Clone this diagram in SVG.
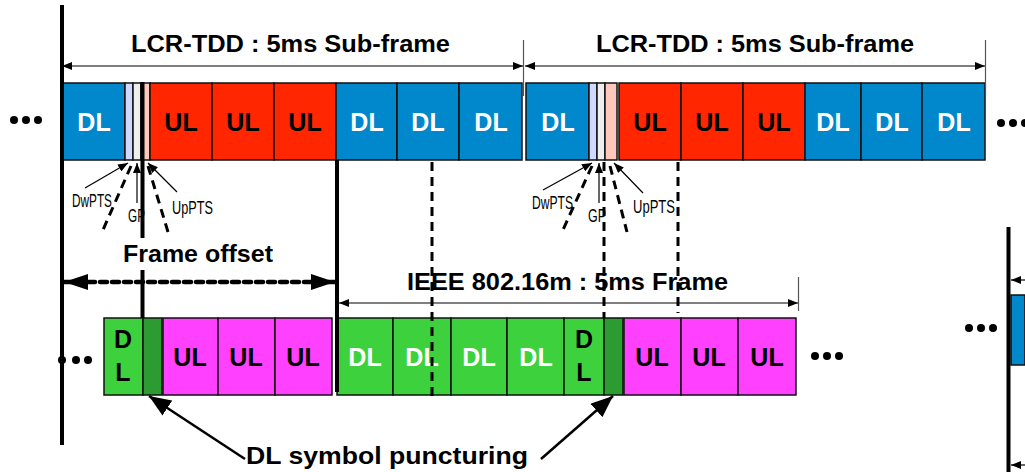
<svg xmlns="http://www.w3.org/2000/svg" width="1025" height="472" viewBox="0 0 1025 472">
<style>
  text { font-family: "Liberation Sans", Arial, sans-serif; font-weight: bold; }
  .cell { stroke: #111; stroke-width: 1.5; }
  .blue { fill: #0087cc; }
  .red { fill: #ff2600; }
  .mag { fill: #ff40ff; }
  .grn { fill: #3dd23d; }
  .dgrn { fill: #2b9b32; }
  .dw { fill: #cfd9ff; }
  .gp { fill: #eeeeee; }
  .up { fill: #ffc8bd; }
  .lw { font-size: 25px; fill: #ffffff; text-anchor: middle; }
  .lb { font-size: 25px; fill: #000000; text-anchor: middle; }
  .title { font-size: 24px; fill: #000; }
  .small { font-size: 18px; font-weight: normal; fill: #000; }
  .thin { stroke: #000; stroke-width: 1.2; fill: none; }
  .tick { stroke: #555; stroke-width: 1.2; fill: none; }
  .thick { stroke: #000; stroke-width: 4; fill: none; }
  .dash { stroke: #000; stroke-width: 3; stroke-dasharray: 9 6; fill: none; }
  .dot { fill: #000; }
</style>
<defs>
  <marker id="sa" viewBox="0 0 10 8" refX="10" refY="4" markerWidth="10" markerHeight="8" markerUnits="userSpaceOnUse" orient="auto-start-reverse">
    <path d="M0,0 L10,4 L0,8 Z" fill="#000"/>
  </marker>
  <marker id="ba" viewBox="0 0 24 16" refX="24" refY="8" markerWidth="24" markerHeight="16" markerUnits="userSpaceOnUse" orient="auto-start-reverse">
    <path d="M0,0 L24,8 L0,16 Z" fill="#000"/>
  </marker>
  <marker id="pa" viewBox="0 0 22 18" refX="22" refY="9" markerWidth="22" markerHeight="18" markerUnits="userSpaceOnUse" orient="auto">
    <path d="M0,0 L22,9 L0,18 Z" fill="#000"/>
  </marker>
</defs>

<!-- Titles -->
<g id="titles">
  <text class="title" x="131" y="52" textLength="319" lengthAdjust="spacingAndGlyphs">LCR-TDD : 5ms Sub-frame</text>
  <text class="title" x="596" y="52" textLength="318" lengthAdjust="spacingAndGlyphs">LCR-TDD : 5ms Sub-frame</text>
  <text class="title" x="123" y="262" textLength="150" lengthAdjust="spacingAndGlyphs">Frame offset</text>
  <text class="title" x="407" y="290" textLength="321" lengthAdjust="spacingAndGlyphs">IEEE 802.16m : 5ms Frame</text>
  <text class="title" x="246" y="464" textLength="282" lengthAdjust="spacingAndGlyphs">DL symbol puncturing</text>
</g>

<!-- Top row, frame 1 -->
<g id="lcr1">
  <rect class="cell blue" x="62" y="83" width="63" height="77"/><text class="lw" x="94" y="131">DL</text>
  <rect class="cell dw" x="125" y="83" width="8" height="77"/>
  <rect class="cell gp" x="133" y="83" width="8" height="77"/>
  <rect class="cell up" x="141" y="83" width="9" height="77"/>
  <rect class="cell red" x="150" y="83" width="62" height="77"/><text class="lb" x="181" y="131">UL</text>
  <rect class="cell red" x="212" y="83" width="62" height="77"/><text class="lb" x="243" y="131">UL</text>
  <rect class="cell red" x="274" y="83" width="62" height="77"/><text class="lb" x="305" y="131">UL</text>
  <rect class="cell blue" x="336" y="83" width="61" height="77"/><text class="lw" x="367" y="131">DL</text>
  <rect class="cell blue" x="397" y="83" width="62" height="77"/><text class="lw" x="428" y="131">DL</text>
  <rect class="cell blue" x="459" y="83" width="63" height="77"/><text class="lw" x="491" y="131">DL</text>
</g>

<!-- Top row, frame 2 -->
<g id="lcr2">
  <rect class="cell blue" x="526" y="83" width="63" height="77"/><text class="lw" x="558" y="131">DL</text>
  <rect class="cell dw" x="589" y="83" width="8" height="77"/>
  <rect class="cell gp" x="597" y="83" width="8" height="77"/>
  <rect class="cell up" x="605" y="83" width="12" height="77"/>
  <rect class="cell red" x="619" y="83" width="62" height="77"/><text class="lb" x="650" y="131">UL</text>
  <rect class="cell red" x="681" y="83" width="62" height="77"/><text class="lb" x="712" y="131">UL</text>
  <rect class="cell red" x="743" y="83" width="62" height="77"/><text class="lb" x="774" y="131">UL</text>
  <rect class="cell blue" x="805" y="83" width="56" height="77"/><text class="lw" x="833" y="131">DL</text>
  <rect class="cell blue" x="861" y="83" width="61" height="77"/><text class="lw" x="892" y="131">DL</text>
  <rect class="cell blue" x="922" y="83" width="63" height="77"/><text class="lw" x="954" y="131">DL</text>
</g>

<!-- Bottom row -->
<g id="ieee">
  <rect class="cell grn" x="104" y="318" width="39" height="77"/>
  <text class="lb" x="123" y="348">D</text><text class="lb" x="123" y="381">L</text>
  <rect class="cell dgrn" x="143" y="318" width="19" height="77"/>
  <rect class="cell mag" x="163" y="318" width="55" height="77"/><text class="lb" x="190" y="366">UL</text>
  <rect class="cell mag" x="218" y="318" width="57" height="77"/><text class="lb" x="246" y="366">UL</text>
  <rect class="cell mag" x="275" y="318" width="57" height="77"/><text class="lb" x="303" y="366">UL</text>
  <rect class="cell grn" x="337" y="318" width="56" height="77"/><text class="lw" x="365" y="366">DL</text>
  <rect class="cell grn" x="393" y="318" width="58" height="77"/><text class="lw" x="422" y="366">DL</text>
  <rect class="cell grn" x="451" y="318" width="56" height="77"/><text class="lw" x="479" y="366">DL</text>
  <rect class="cell grn" x="507" y="318" width="57" height="77"/><text class="lw" x="536" y="366">DL</text>
  <rect class="cell grn" x="564" y="318" width="40" height="77"/>
  <text class="lb" x="584" y="348">D</text><text class="lb" x="584" y="381">L</text>
  <rect class="cell dgrn" x="604" y="318" width="19" height="77"/>
  <rect class="cell mag" x="624" y="318" width="57" height="77"/><text class="lb" x="652" y="366">UL</text>
  <rect class="cell mag" x="681" y="318" width="57" height="77"/><text class="lb" x="709" y="366">UL</text>
  <rect class="cell mag" x="738" y="318" width="58" height="77"/><text class="lb" x="767" y="366">UL</text>
</g>

<!-- Right partial box -->
<g id="next">
  <rect class="blue" x="1011" y="295" width="14" height="70" stroke="#111" stroke-width="1.5"/>
</g>

<!-- Small labels -->
<g id="labels">
  <text class="small" x="72" y="207" textLength="40" lengthAdjust="spacingAndGlyphs">DwPTS</text>
  <text class="small" x="128" y="222" textLength="17" lengthAdjust="spacingAndGlyphs">GP</text>
  <text class="small" x="172" y="214" textLength="41" lengthAdjust="spacingAndGlyphs">UpPTS</text>
  <text class="small" x="532" y="209" textLength="41" lengthAdjust="spacingAndGlyphs">DwPTS</text>
  <text class="small" x="588" y="222" textLength="18" lengthAdjust="spacingAndGlyphs">GP</text>
  <text class="small" x="633" y="213" textLength="42" lengthAdjust="spacingAndGlyphs">UpPTS</text>
</g>

<!-- Ellipses -->
<g id="ellipses">
  <circle class="dot" cx="14" cy="120" r="4"/><circle class="dot" cx="26" cy="120" r="4"/><circle class="dot" cx="38" cy="120" r="4"/>
  <circle class="dot" cx="1001" cy="123" r="4"/><circle class="dot" cx="1013" cy="123" r="4"/><circle class="dot" cx="1025" cy="123" r="4"/>
  <circle class="dot" cx="62" cy="360" r="4"/><circle class="dot" cx="76" cy="360" r="4"/><circle class="dot" cx="88" cy="360" r="4"/>
  <circle class="dot" cx="815" cy="356" r="4"/><circle class="dot" cx="827" cy="356" r="4"/><circle class="dot" cx="839" cy="356" r="4"/>
  <circle class="dot" cx="969" cy="328" r="4"/><circle class="dot" cx="981" cy="328" r="4"/><circle class="dot" cx="993" cy="328" r="4"/>
</g>

<!-- Connectors -->
<g id="connectors">
  <line class="thick" x1="62" y1="5" x2="62" y2="445"/>
  <line class="thick" x1="1008.5" y1="227" x2="1008.5" y2="472"/>
  <line class="thick" x1="142.5" y1="82" x2="142.5" y2="238"/>
  <line class="thick" x1="142.5" y1="270" x2="142.5" y2="318"/>
  <line class="thick" x1="337" y1="160" x2="337" y2="392" stroke-width="3.5"/>
  <line class="dash" x1="432" y1="162" x2="432" y2="396"/>
  <line class="dash" x1="604" y1="162" x2="604" y2="318"/>
  <line class="dash" x1="678" y1="162" x2="678" y2="313"/>

  <line class="thin" x1="62" y1="66" x2="523" y2="66" marker-start="url(#sa)" marker-end="url(#sa)"/>
  <line class="tick" x1="523.5" y1="40" x2="523.5" y2="96"/>
  <line class="thin" x1="525" y1="66" x2="985" y2="66" marker-start="url(#sa)" marker-end="url(#sa)"/>
  <line class="tick" x1="985.5" y1="40" x2="985.5" y2="96"/>
  <line class="thin" x1="339" y1="303" x2="798" y2="303" marker-start="url(#sa)" marker-end="url(#sa)"/>
  <line class="tick" x1="798.5" y1="277" x2="798.5" y2="311"/>
  <line class="thin" x1="1025" y1="280" x2="1011" y2="280" marker-end="url(#sa)"/>
  <line class="thin" x1="1025" y1="465" x2="1011" y2="465" marker-end="url(#sa)"/>

  <line x1="64" y1="282" x2="335" y2="282" stroke="#000" stroke-width="4.5" stroke-dasharray="7 5" stroke-linecap="round" marker-start="url(#ba)" marker-end="url(#ba)"/>

  <line class="thin" x1="85" y1="188" x2="128" y2="163" marker-end="url(#sa)"/>
  <line class="thin" x1="137" y1="203" x2="137" y2="163" marker-end="url(#sa)"/>
  <line class="thin" x1="177" y1="192" x2="148" y2="163" marker-end="url(#sa)"/>
  <line class="dash" x1="131" y1="166" x2="103" y2="230"/>
  <line class="dash" x1="148" y1="166" x2="168" y2="232"/>

  <line class="thin" x1="543" y1="190" x2="592" y2="163" marker-end="url(#sa)"/>
  <line class="thin" x1="599" y1="203" x2="599" y2="163" marker-end="url(#sa)"/>
  <line class="thin" x1="643" y1="193" x2="614" y2="163" marker-end="url(#sa)"/>
  <line class="dash" x1="592" y1="166" x2="562" y2="232"/>
  <line class="dash" x1="610" y1="166" x2="627" y2="232"/>

  <line x1="245" y1="459" x2="149" y2="396" stroke="#000" stroke-width="2.5" marker-end="url(#pa)"/>
  <line x1="541" y1="459" x2="613" y2="396" stroke="#000" stroke-width="2.5" marker-end="url(#pa)"/>
</g>
</svg>
